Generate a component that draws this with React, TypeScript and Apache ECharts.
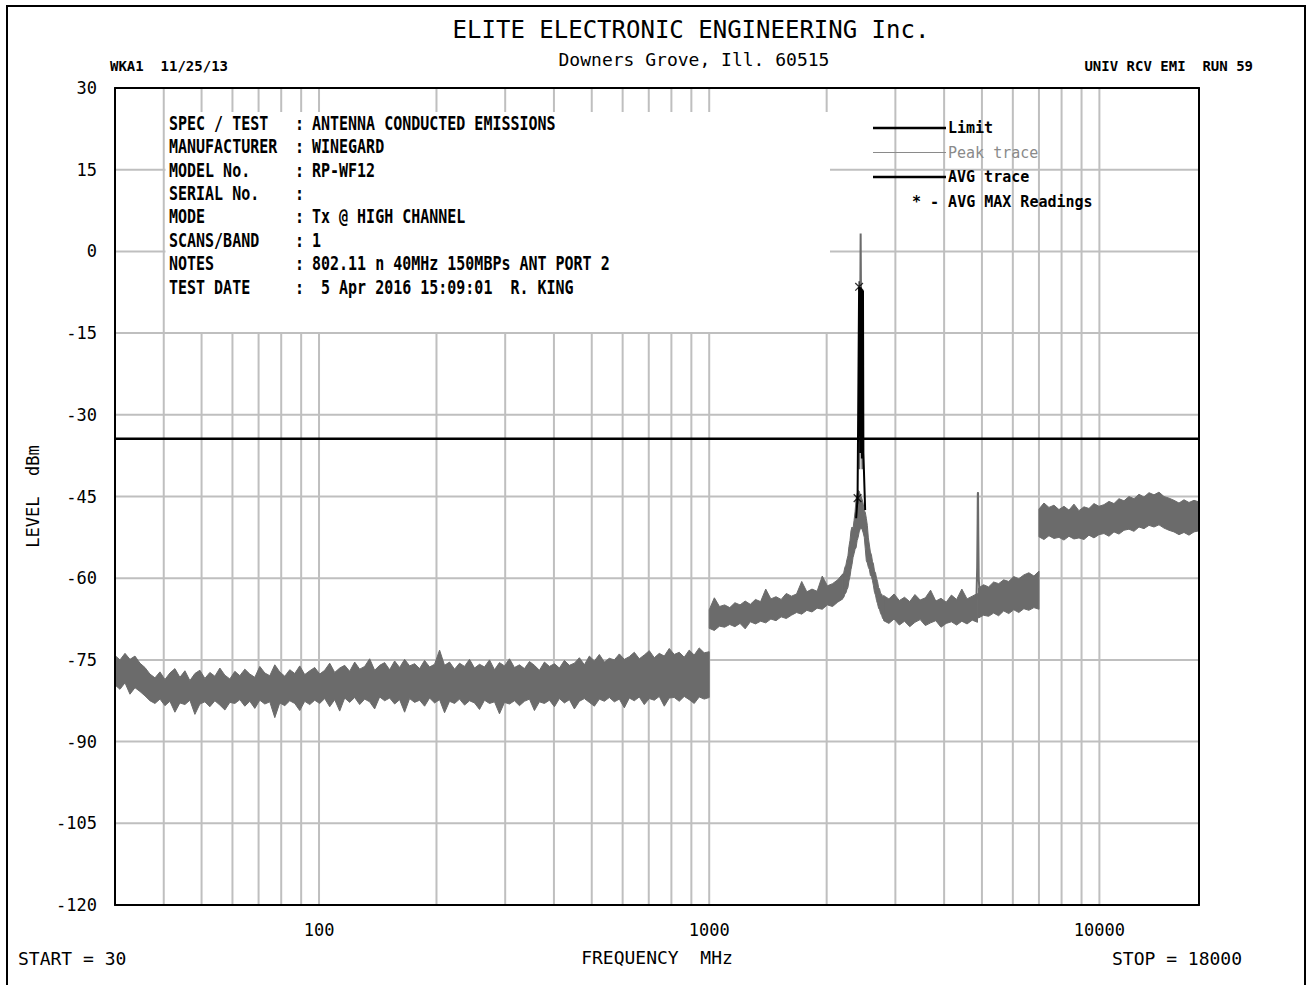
import React, { useEffect, useRef } from "react";
import * as echarts from "echarts";

// ---------- data ----------
const freqMin = 30;
const freqMax = 18000;
const levelMin = -120;
const levelMax = 30;
const levelStep = 15;

const xTickLabels = [100, 1000, 10000];
const gridFreqs = [40, 50, 60, 70, 80, 90, 100, 200, 300, 400, 500, 600, 700, 800, 900, 1000, 2000, 3000, 4000, 5000, 6000, 7000, 8000, 9000, 10000];
const gridLevels = [-105, -90, -75, -60, -45, -30, -15, 0, 15];

// Peak trace noise band: sweep segments (start / stop MHz), upper and lower envelope in dBm
const segStart = [30, 1000, 2200, 2800, 4900, 7000];
const segStop = [1000, 2200, 2800, 4870, 7000, 18000];

const segAHigh = [
  -74.2, -75.0, -73.8, -74.9, -74.3, -75.6, -76.4, -77.6, -78.3, -77.2,
  -78.6, -77.4, -76.6, -78.2, -77.0, -78.8, -77.5, -76.9, -78.4, -77.3,
  -78.0, -76.5, -77.8, -78.5, -77.1, -77.9, -76.7, -77.6, -78.2, -76.2,
  -77.4, -77.9, -75.9, -77.2, -78.0, -76.8, -77.5, -76.1, -77.7, -77.0,
  -76.4, -77.6, -76.9, -75.6, -77.3, -76.5, -76.0, -77.1, -75.4, -76.7,
  -76.2, -74.8, -76.9, -76.0, -75.5, -76.8, -75.2, -76.4, -74.9, -76.1,
  -75.7, -76.6, -75.1, -76.3, -75.8, -73.2, -76.0, -75.4, -76.7, -75.6,
  -76.2, -74.9, -76.5, -75.8, -76.3, -75.0, -76.8, -75.5, -76.1, -74.8,
  -76.4, -75.9, -76.6, -75.3, -76.0, -76.9, -75.4, -76.2, -75.7, -76.5,
  -75.1, -76.0, -75.6, -74.6, -75.9, -74.3, -75.2, -74.0, -75.4, -74.7,
  -75.0, -73.9, -74.9, -74.4, -73.6, -74.8, -74.1, -73.3, -74.6, -73.8,
  -74.3, -72.9, -74.0, -73.6, -74.5, -73.2, -74.1, -72.8, -73.7, -73.5,
];
const segALow = [
  -79.6, -80.4, -79.2, -81.3, -80.1, -80.8, -81.6, -82.5, -83.0, -82.2,
  -83.4, -82.6, -84.6, -82.9, -83.2, -82.4, -85.0, -83.1, -82.7, -83.6,
  -82.5, -83.3, -84.2, -82.8, -83.0, -82.3, -83.5, -82.6, -83.9, -82.4,
  -83.1, -82.7, -85.6, -82.9, -83.4, -82.5, -83.0, -84.3, -82.6, -83.2,
  -82.4, -83.0, -82.1, -83.6, -82.3, -84.4, -82.0, -82.8, -81.9, -83.2,
  -82.2, -82.7, -84.0, -81.8, -82.5, -82.0, -83.1, -82.3, -84.6, -82.1,
  -82.8, -82.4, -83.5, -82.0, -82.9, -82.3, -84.7, -82.6, -83.0, -82.2,
  -83.3, -82.5, -82.9, -84.1, -82.4, -83.0, -82.7, -84.9, -82.8, -83.1,
  -82.5, -83.4, -82.6, -82.2, -84.3, -82.7, -83.0, -82.4, -83.6, -82.1,
  -82.9, -82.3, -84.0, -82.6, -82.1, -82.8, -83.5, -82.2, -82.6, -81.9,
  -82.7, -82.2, -83.8, -82.0, -82.5, -81.8, -83.2, -82.1, -82.4, -81.7,
  -83.5, -82.0, -81.9, -82.6, -81.7, -82.3, -83.0, -81.8, -82.2, -81.9,
];
const segB1High = [
  -65.8, -63.6, -65.2, -64.9, -65.4, -64.5, -64.9, -64.2, -64.8, -63.9,
  -64.3, -62.0, -63.8, -63.4, -63.9, -62.8, -63.3, -62.9, -60.6, -62.5,
  -62.0, -62.4, -59.6, -61.4, -61.0, -60.3, -59.2,
];
const segB1Low = [
  -69.2, -69.6, -68.8, -69.0, -68.5, -68.9, -68.3, -69.3, -68.0, -68.4,
  -67.9, -68.2, -67.5, -67.8, -67.1, -67.4, -66.8, -66.3, -66.6, -65.9,
  -66.2, -65.5, -65.7, -64.9, -65.2, -64.4, -63.8,
];
const segB2High = [
  -59.4, -58.9, -58.0, -57.6, -56.6, -55.9, -54.2, -53.1, -51.3, -50.6,
  -50.9, -49.4, -47.8, -45.4, -44.6, -43.9, -44.0, -44.6, -45.0, -45.6,
  -46.4, -47.6, -47.9, -49.0, -50.3, -52.6, -53.9, -55.2, -55.7, -56.9,
  -57.4, -58.7, -59.0, -60.0, -60.6, -61.7, -62.0, -62.8, -62.9, -63.4,
  -63.2,
];
const segB2Low = [
  -63.6, -63.5, -62.9, -62.7, -62.1, -61.7, -60.5, -59.7, -58.4, -57.5,
  -56.2, -55.5, -54.7, -54.4, -53.1, -52.5, -51.5, -51.0, -50.8, -51.1,
  -51.7, -52.5, -54.6, -56.8, -57.2, -58.0, -58.4, -59.5, -59.7, -60.4,
  -61.4, -62.6, -63.1, -64.1, -64.7, -65.5, -65.8, -66.5, -66.8, -67.4,
  -67.6,
];
const segB3High = [
  -63.2, -63.8, -62.9, -64.1, -63.5, -64.3, -63.0, -64.0, -63.6, -62.2,
  -64.2, -63.7, -64.4, -63.1, -63.9, -62.0, -63.8, -63.3, -62.8,
];
const segB3Low = [
  -67.8, -68.3, -67.5, -68.6, -67.9, -68.9, -68.1, -67.6, -68.7, -68.2,
  -67.8, -69.0, -68.3, -68.0, -68.6, -67.9, -68.4, -67.7, -68.1,
];
const segCHigh = [-61.8, -61.2, -61.6, -60.7, -61.0, -60.3, -60.6, -59.7, -60.1, -59.4, -59.0, -59.6, -58.7];
const segCLow = [-67.3, -66.8, -67.0, -66.4, -66.9, -66.0, -66.5, -65.8, -66.3, -65.6, -65.9, -65.4, -65.7];
const segDHigh = [
  -47.3, -46.2, -47.0, -46.6, -47.4, -46.8, -47.5, -46.4, -47.6, -46.9,
  -47.2, -46.3, -46.8, -46.5, -45.9, -46.3, -45.4, -45.8, -45.0, -45.4,
  -44.6, -45.1, -44.3, -44.7, -44.2, -45.0, -45.3, -45.7, -46.2, -45.6,
  -46.1, -45.7, -46.0,
];
const segDLow = [
  -52.4, -52.9, -52.2, -52.7, -52.5, -53.0, -52.3, -52.8, -52.6, -52.9,
  -52.1, -52.6, -52.0, -51.8, -52.3, -51.5, -51.9, -51.2, -51.0, -51.4,
  -50.6, -50.9, -50.3, -50.6, -50.2, -50.8, -51.2, -51.5, -52.0, -51.6,
  -52.1, -51.5, -51.3,
];

// Peak trace: carrier spike and 2nd harmonic
const carrierFreq = [2425, 2438, 2444, 2450, 2470];
const carrierLevel = [-40, -10, 3.3, -10, -40];
const harmFreq = [4840, 4862, 4874, 4880, 4886, 4894, 4906, 4925];
const harmLevel = [-63.8, -58, -50, -44.5, -44.2, -52, -60, -62];

// AVG trace at the carrier
const avgFreq = [2380, 2400, 2422, 2428, 2432, 2438, 2444, 2450, 2456, 2462, 2468, 2474, 2478, 2484, 2510];
const avgLevel = [-49, -45.3, -6.5, -34, -6.6, -37, -6.6, -35, -6.8, -38, -7.0, -36, -7.2, -37, -47.5];

// AVG MAX readings
const avgMaxFreq = [2400, 2422];
const avgMaxLevel = [-45.3, -6.5];

// Limit
const limitLevel = -34.4;

const infoLabels = ["SPEC / TEST", "MANUFACTURER", "MODEL No.", "SERIAL No.", "MODE", "SCANS/BAND", "NOTES", "TEST DATE"];
const infoValues = ["ANTENNA CONDUCTED EMISSIONS", "WINEGARD", "RP-WF12", "", "Tx @ HIGH CHANNEL", "1", "802.11 n 40MHz 150MBPs ANT PORT 2", " 5 Apr 2016 15:09:01  R. KING"];

// ---------- styles ----------
const MONO = '"DejaVu Sans Mono", monospace';
const PEAK = "#6b6b6b";
const GRID = "#bfbfbf";
const STAR_PATH =
  "path://M-0.6,-5L0.6,-5L0.6,5L-0.6,5Z M-3.1,-3.9L3.9,3.1L3.1,3.9L-3.9,-3.1Z M3.1,-3.9L3.9,-3.1L-3.1,3.9L-3.9,3.1Z";

const segHighs = [segAHigh, segB1High, segB2High, segB3High, segCHigh, segDHigh];
const segLows = [segALow, segB1Low, segB2Low, segB3Low, segCLow, segDLow];

function sweepFreq(start: number, stop: number, i: number, n: number) {
  return start * Math.pow(stop / start, i / (n - 1));
}

function txt(x: number, y: number, text: string, font: string, opts: any = {}) {
  const align = opts.align || "left";
  return {
    type: "text",
    x,
    y,
    z: 20,
    silent: true,
    scaleX: opts.scaleX || 1,
    style: {
      text,
      font,
      fill: opts.fill || "#000",
      textAlign: align,
      align,
      textVerticalAlign: "middle",
      verticalAlign: "middle",
    },
  };
}

export default function App() {
  const ref = useRef<HTMLDivElement>(null);

  useEffect(() => {
    if (!ref.current) return;
    const chart = echarts.init(ref.current, undefined, { renderer: "svg" });

    const infoFont = `bold 20px ${MONO}`;
    const rowY = [123, 146.5, 170, 193, 216.5, 240, 263.5, 287];
    const infoGraphics: any[] = [];
    infoLabels.forEach((lab, i) => {
      infoGraphics.push(txt(169, rowY[i], lab, infoFont, { scaleX: 0.75 }));
      infoGraphics.push(txt(295, rowY[i], ":", infoFont, { scaleX: 0.75 }));
      if (infoValues[i]) infoGraphics.push(txt(312, rowY[i], infoValues[i], infoFont, { scaleX: 0.75 }));
    });

    const legendFont = `bold 15px ${MONO}`;
    const option: any = {
      animation: false,
      backgroundColor: "#fff",
      grid: { left: 115, right: 108, top: 88, bottom: 80, containLabel: false },
      xAxis: [
        {
          type: "log",
          logBase: 10,
          min: freqMin,
          max: freqMax,
          position: "bottom",
          z: 10,
          axisLine: { show: true, onZero: false, lineStyle: { color: "#000", width: 2 } },
          axisTick: { show: false },
          minorTick: { show: false },
          splitLine: { show: false },
          axisLabel: {
            color: "#000",
            fontFamily: MONO,
            fontSize: 17,
            margin: 16,
            formatter: (v: number) => {
              const r = Math.round(v);
              return xTickLabels.includes(r) ? String(r) : "";
            },
          },
          name: "FREQUENCY  MHz",
          nameLocation: "middle",
          nameGap: 43,
          nameTextStyle: { color: "#000", fontFamily: MONO, fontSize: 18 },
        },
        {
          type: "log",
          logBase: 10,
          min: freqMin,
          max: freqMax,
          position: "top",
          z: 10,
          axisLine: { show: true, onZero: false, lineStyle: { color: "#000", width: 2 } },
          axisTick: { show: false },
          axisLabel: { show: false },
          splitLine: { show: false },
        },
      ],
      yAxis: [
        {
          type: "value",
          min: levelMin,
          max: levelMax,
          interval: levelStep,
          position: "left",
          z: 10,
          axisLine: { show: true, onZero: false, lineStyle: { color: "#000", width: 2 } },
          axisTick: { show: false },
          splitLine: { show: false },
          axisLabel: { color: "#000", fontFamily: MONO, fontSize: 17, margin: 18 },
          name: "LEVEL  dBm",
          nameLocation: "middle",
          nameGap: 74,
          nameRotate: 90,
          nameTextStyle: { color: "#000", fontFamily: MONO, fontSize: 17 },
        },
        {
          type: "value",
          min: levelMin,
          max: levelMax,
          interval: levelStep,
          position: "right",
          z: 10,
          axisLine: { show: true, onZero: false, lineStyle: { color: "#000", width: 2 } },
          axisTick: { show: false },
          splitLine: { show: false },
          axisLabel: { show: false },
        },
      ],
      series: [
        {
          type: "custom",
          name: "hgrid",
          z: 1,
          silent: true,
          data: gridLevels.map((l) => [freqMin, l]),
          renderItem: (_p: any, api: any) => {
            const l = api.value(1);
            const a = api.coord([freqMin, l]);
            const b = api.coord([freqMax, l]);
            return { type: "line", shape: { x1: a[0], y1: a[1], x2: b[0], y2: b[1] }, style: { stroke: GRID, lineWidth: 2 } };
          },
        },
        {
          type: "custom",
          name: "vgrid",
          z: 1,
          silent: true,
          data: gridFreqs.map((f) => [f, -45]),
          renderItem: (_p: any, api: any) => {
            const f = api.value(0);
            const a = api.coord([f, levelMax]);
            const b = api.coord([f, levelMin]);
            return { type: "line", shape: { x1: a[0], y1: a[1], x2: b[0], y2: b[1] }, style: { stroke: GRID, lineWidth: 2 } };
          },
        },
        {
          type: "custom",
          name: "Peak trace band",
          z: 2,
          silent: true,
          clip: true,
          data: segStart.map((s, i) => [s, segHighs[i][0]]),
          renderItem: (p: any, api: any) => {
            const k = p.dataIndex;
            const hi = segHighs[k];
            const lo = segLows[k];
            const top = hi.map((v, i) => api.coord([sweepFreq(segStart[k], segStop[k], i, hi.length), v]));
            const bot = lo.map((v, i) => api.coord([sweepFreq(segStart[k], segStop[k], i, lo.length), v]));
            return {
              type: "polygon",
              shape: { points: top.concat(bot.reverse()) },
              style: { fill: PEAK, stroke: PEAK, lineWidth: 1 },
            };
          },
        },
        {
          type: "line",
          name: "Peak trace carrier",
          z: 3,
          silent: true,
          symbol: "none",
          data: carrierFreq.map((f, i) => [f, carrierLevel[i]]),
          lineStyle: { color: PEAK, width: 2 },
        },
        {
          type: "line",
          name: "Peak trace harmonic",
          z: 3,
          silent: true,
          symbol: "none",
          data: harmFreq.map((f, i) => [f, harmLevel[i]]),
          lineStyle: { color: PEAK, width: 2 },
        },
        {
          type: "line",
          name: "Limit",
          z: 4,
          silent: true,
          symbol: "none",
          data: [
            [freqMin, limitLevel],
            [freqMax, limitLevel],
          ],
          lineStyle: { color: "#000", width: 2.5 },
        },
        {
          type: "line",
          name: "AVG trace",
          z: 5,
          silent: true,
          symbol: "none",
          data: avgFreq.map((f, i) => [f, avgLevel[i]]),
          lineStyle: { color: "#000", width: 2 },
        },
        {
          type: "scatter",
          name: "AVG MAX Readings",
          z: 6,
          silent: true,
          symbol: STAR_PATH,
          symbolSize: 11,
          symbolKeepAspect: true,
          itemStyle: { color: "#000" },
          data: avgMaxFreq.map((f, i) => [f, avgMaxLevel[i]]),
        },
      ],
      graphic: [
        {
          type: "rect",
          z: 0,
          silent: true,
          shape: { x: 7, y: 6, width: 1298, height: 995 },
          style: { fill: "transparent", stroke: "#000", lineWidth: 2 },
        },
        {
          type: "rect",
          z: 3,
          silent: true,
          shape: { x: 165.5, y: 112, width: 664.5, height: 220 },
          style: { fill: "#fff", stroke: null },
        },
        txt(691, 30, "ELITE ELECTRONIC ENGINEERING Inc.", `24px ${MONO}`, { align: "center" }),
        txt(694, 59, "Downers Grove, Ill. 60515", `18px ${MONO}`, { align: "center" }),
        txt(110, 66, "WKA1  11/25/13", `bold 14px ${MONO}`),
        txt(1253, 66, "UNIV RCV EMI  RUN 59", `bold 14px ${MONO}`, { align: "right" }),
        ...infoGraphics,
        // legend
        { type: "line", z: 20, silent: true, shape: { x1: 873, y1: 128, x2: 946, y2: 128 }, style: { stroke: "#000", lineWidth: 2.5 } },
        { type: "line", z: 20, silent: true, shape: { x1: 873, y1: 152.5, x2: 946, y2: 152.5 }, style: { stroke: "#8a8a8a", lineWidth: 1 } },
        { type: "line", z: 20, silent: true, shape: { x1: 873, y1: 177, x2: 946, y2: 177 }, style: { stroke: "#000", lineWidth: 2.5 } },
        txt(948, 128, "Limit", legendFont),
        txt(948, 152.5, "Peak trace", `15px ${MONO}`, { fill: "#8a8a8a" }),
        txt(948, 177, "AVG trace", legendFont),
        txt(912, 202, "* - AVG MAX Readings", legendFont),
        // bottom
        txt(18, 958, "START = 30", `18px ${MONO}`),
        txt(1242, 958, "STOP = 18000", `18px ${MONO}`, { align: "right" }),
      ],
    };

    chart.setOption(option);
    return () => chart.dispose();
  }, []);

  return <div ref={ref} style={{ position: "fixed", left: 0, top: 0, width: 1307, height: 985, background: "#fff" }} />;
}
